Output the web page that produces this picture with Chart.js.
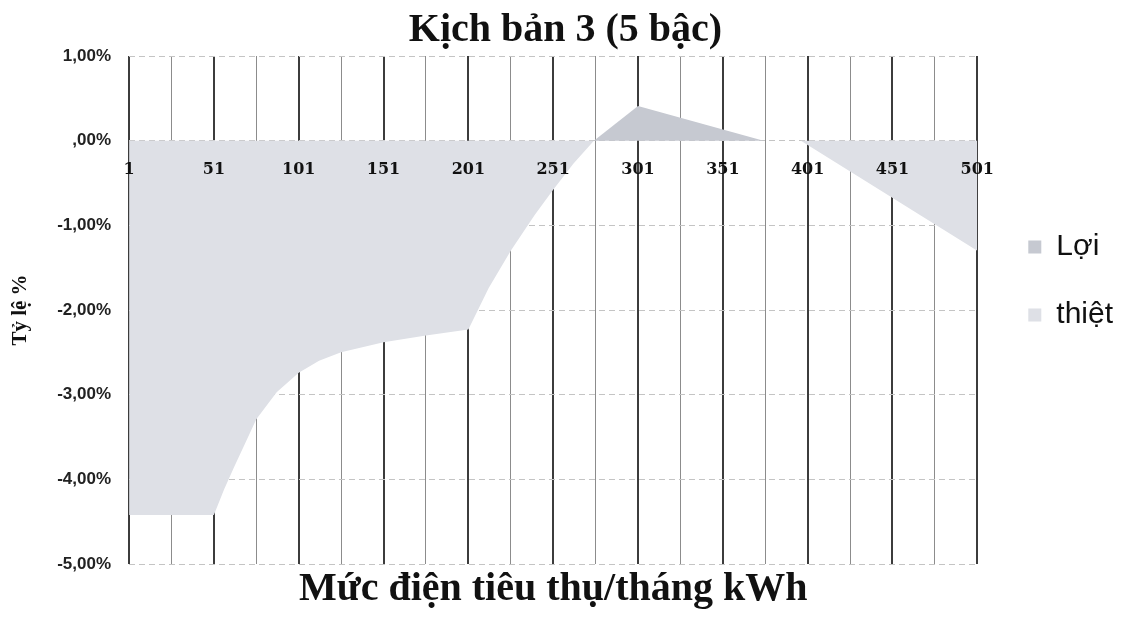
<!DOCTYPE html>
<html>
<head>
<meta charset="utf-8">
<script src="https://cdn.jsdelivr.net/npm/chart.js@4.4.1/dist/chart.umd.min.js"></script>
<style>
  body { margin: 0; background: #fff; }
  #wrap { width: 1123px; height: 617px; }
</style>
</head>
<body>
<div id="wrap"><canvas id="chart"></canvas></div>
<script>
// Data (kWh -> % difference)
const seriesNames = ["Lợi", "thiệt"];
const loiKwh = [275, 301, 375];
const loiPct = [0, 0.41, 0];
const thietKwh = [1, 51, 57, 63, 70, 76, 88, 101, 113, 126, 151, 176, 201, 213, 226, 240, 251, 263, 275, 375, 397, 501];
const thietPct = [-4.42, -4.42, -4.12, -3.85, -3.55, -3.29, -2.97, -2.74, -2.6, -2.5, -2.38, -2.3, -2.23, -1.74, -1.3, -0.88, -0.58, -0.27, 0, 0, 0, -1.3];
const xLabels = [1, 51, 101, 151, 201, 251, 301, 351, 401, 451, 501];
const xGrid = [1, 26, 51, 76, 101, 126, 151, 176, 201, 226, 251, 276, 301, 326, 351, 376, 401, 426, 451, 476, 501];

const toPoints = (xs, ys) => xs.map((x, i) => ({ x: x, y: ys[i] }));
const fmtPct = v => v === 0 ? ",00%" : v.toFixed(2).replace(".", ",") + "%";

const ctx = document.getElementById("chart").getContext("2d");
new Chart(ctx, {
  type: "line",
  data: {
    datasets: [
      {
        label: seriesNames[0],
        data: toPoints(loiKwh, loiPct),
        backgroundColor: "#c6c9d1",
        borderWidth: 0,
        pointRadius: 0,
        fill: "origin",
        tension: 0
      },
      {
        label: seriesNames[1],
        data: toPoints(thietKwh, thietPct),
        backgroundColor: "#dee0e6",
        borderWidth: 0,
        pointRadius: 0,
        fill: "origin",
        tension: 0
      }
    ]
  },
  options: {
    responsive: true,
    maintainAspectRatio: false,
    animation: false,
    layout: { padding: { left: 8, right: 0, top: 4, bottom: 0 } },
    plugins: {
      title: {
        display: true,
        text: "Kịch bản 3 (5 bậc)",
        color: "#111",
        font: { family: "Liberation Serif", size: 40, weight: "bold" },
        padding: { top: 3, bottom: 1 }
      },
      legend: {
        position: "right",
        align: "start",
        // empty title only pushes the items down to where the original sits
        title: {
          display: true,
          text: " ",
          font: { size: 10 },
          padding: { top: 0, bottom: 178 }
        },
        labels: {
          color: "#111",
          boxWidth: 13,
          boxHeight: 13,
          padding: 38,
          font: { family: "Liberation Sans", size: 30 }
        }
      },
      tooltip: { enabled: false }
    },
    scales: {
      x: {
        type: "linear",
        min: 1,
        max: 501,
        afterBuildTicks: s => { s.ticks = xGrid.map(v => ({ value: v })); },
        ticks: { display: false },
        border: { display: false },
        grid: {
          drawTicks: false,
          color: c => ((c.tick.value - 1) % 50 === 0 ? "#3c3c3c" : "#8c8c8c"),
          lineWidth: c => ((c.tick.value - 1) % 50 === 0 ? 2 : 1)
        },
        title: {
          display: true,
          text: "Mức điện tiêu thụ/tháng kWh",
          color: "#111",
          font: { family: "Liberation Serif", size: 40, weight: "bold" },
          padding: { top: 2, bottom: 3 }
        }
      },
      xLab: {
        type: "linear",
        min: 1,
        max: 501,
        position: { y: 0 },
        afterBuildTicks: s => { s.ticks = xLabels.map(v => ({ value: v })); },
        grid: { display: false },
        border: { display: false },
        ticks: {
          z: 1,
          color: "#111",
          padding: 12,
          maxRotation: 0,
          autoSkip: false,
          font: { family: "DejaVu Serif", size: 16, weight: "bold" },
          callback: v => String(v)
        }
      },
      y: {
        min: -5,
        max: 1,
        ticks: {
          stepSize: 1,
          padding: 18,
          color: "#222",
          font: { family: "Liberation Sans", size: 17, weight: "bold" },
          callback: v => fmtPct(v)
        },
        border: { display: false, dash: [6, 4] },
        grid: {
          drawTicks: false,
          color: "#c4c4c4",
          lineWidth: 1
        },
        title: {
          display: true,
          text: "Tỷ lệ %",
          color: "#111",
          font: { family: "Liberation Serif", size: 21, weight: "bold" },
          padding: { top: 0, bottom: 6 }
        }
      },
      gap: {
        type: "linear",
        position: "right",
        min: 0,
        max: 1,
        ticks: { display: false },
        grid: { display: false, drawTicks: false },
        border: { display: false },
        afterFit: s => { s.width = 13; }
      }
    }
  }
});
</script>
</body>
</html>
